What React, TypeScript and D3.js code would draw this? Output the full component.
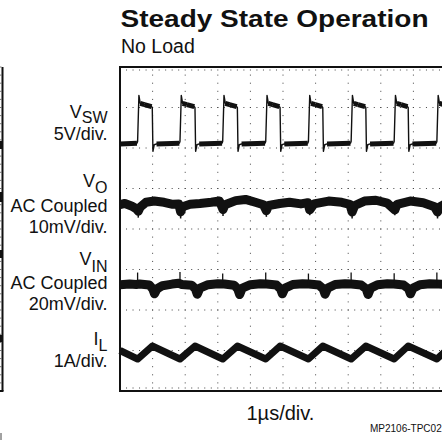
import React from "react";
import * as d3 from "d3";

// ---------- data ----------
const titleText = "Steady State Operation";
const subtitleText = "No Load";
const xAxisLabel = "1\u00b5s/div.";
const figureId = "MP2106-TPC02";

const timeDivisions = 10; // µs across screen
const verticalDivisions = 8;

// channel settings
const channelMain = ["V", "V", "V", "I"];
const channelSub = ["SW", "O", "IN", "L"];
const channelCoupling = ["", "AC Coupled", "AC Coupled", ""];
const channelScaleText = ["5V/div.", "10mV/div.", "20mV/div.", "1A/div."];
const channelPerDiv = [5, 10, 20, 1]; // V, mV, mV, A per division
const channelOffsetDiv = [2.1, 0.6, -1.4, -3.05]; // trace ground position (div from centre)

// V_SW  (t µs, volts)
const vswTrace: [number, number][] = [
  [0, 0.0], [0.52, 0.1],
  [0.54, 0.3], [0.58, 6.0], [0.62, 5.0], [0.75, 4.85], [0.97, 4.6], [0.99, 4.5], [1.01, -0.9], [1.05, -0.1], [1.12, 0], [1.82, 0.1],
  [1.84, 0.3], [1.88, 6.0], [1.92, 5.0], [2.05, 4.85], [2.28, 4.6], [2.3, 4.5], [2.32, -0.9], [2.36, -0.1], [2.43, 0], [3.13, 0.1],
  [3.15, 0.3], [3.19, 6.0], [3.23, 5.0], [3.36, 4.85], [3.58, 4.6], [3.6, 4.5], [3.62, -0.9], [3.66, -0.1], [3.73, 0], [4.45, 0.1],
  [4.47, 0.3], [4.51, 6.0], [4.55, 5.0], [4.68, 4.85], [4.89, 4.6], [4.91, 4.5], [4.93, -0.9], [4.97, -0.1], [5.04, 0], [5.76, 0.1],
  [5.78, 0.3], [5.82, 6.0], [5.86, 5.0], [5.99, 4.85], [6.2, 4.6], [6.22, 4.5], [6.24, -0.9], [6.28, -0.1], [6.35, 0], [7.07, 0.1],
  [7.09, 0.3], [7.13, 6.0], [7.17, 5.0], [7.3, 4.85], [7.52, 4.6], [7.54, 4.5], [7.56, -0.9], [7.6, -0.1], [7.67, 0], [8.39, 0.1],
  [8.41, 0.3], [8.45, 6.0], [8.49, 5.0], [8.62, 4.85], [8.82, 4.6], [8.84, 4.5], [8.86, -0.9], [8.9, -0.1], [8.97, 0], [9.7, 0.1],
  [9.72, 0.3], [9.76, 6.0], [9.8, 5.0], [9.93, 4.85], [10, 4.8],
];

// V_O ripple (t µs, mV)
const voTrace: [number, number][] = [
  [0, 0.0], [0.15, 0.3], [0.35, -0.3], [0.5, -1.0], [0.56, -1.6], [0.62, -0.6], [0.8, 0.6], [1.05, 0.9], [1.35, 0.6],
  [1.62, 0.1], [1.8, 0.2], [1.86, -1.8], [1.92, -0.5], [2.15, 0.1], [2.45, 0.3], [2.8, 0.6], [3.05, 0.9], [3.16, -1.2],
  [3.22, 0.0], [3.55, 1.0], [3.85, 1.3], [4.15, 0.6], [4.4, 0.0], [4.49, -1.5], [4.56, -0.2], [4.9, 0.3], [5.2, 0.6],
  [5.55, 0.2], [5.76, 0.5], [5.82, -1.3], [5.95, 0.2], [6.4, 0.9], [6.8, 0.6], [7.05, 0.1], [7.12, -1.8], [7.2, -0.2],
  [7.5, 0.9], [7.85, 1.1], [8.2, 0.4], [8.43, -1.3], [8.5, 0.1], [8.9, 0.9], [9.3, 0.5], [9.65, -0.5], [9.74, -1.8],
  [9.82, -0.5], [10, 0.3],
];
const voSpikes: [number, number, number][] = [
  [0.56, -1, -3.2], [1.86, -1, -3.4], [3.16, -1, -2.8], [4.49, -1, -3.0], [5.82, -1, -2.6], [7.12, -1, -3.4], [8.43, -1, -2.6], [9.74, -1, -3.4],
];

// V_IN ripple (t µs, mV)
const vinTrace: [number, number][] = [
  [0, 0.5], [0.3, 0.8], [0.5, 0.6], [0.6, 0.8], [0.9, 0.3], [1.0, -1.5], [1.06, -4.0], [1.14, -1.5], [1.3, 0.0],
  [1.6, 0.8], [1.8, 1.2], [1.9, 0.6], [2.2, 0.2], [2.31, -1.5], [2.37, -4.2], [2.45, -1.2], [2.7, 0.5], [3.0, 1.0],
  [3.2, 0.8], [3.5, 0.2], [3.61, -1.5], [3.67, -4.4], [3.75, -1.2], [4.0, 0.5], [4.3, 1.0], [4.5, 0.8], [4.8, 0.3],
  [4.92, -1.5], [4.98, -4.0], [5.06, -1.2], [5.3, 0.6], [5.6, 1.0], [5.8, 0.8], [6.1, 0.3], [6.23, -1.5], [6.29, -4.2],
  [6.37, -1.2], [6.6, 0.6], [6.9, 1.0], [7.1, 0.8], [7.4, 0.3], [7.55, -1.5], [7.61, -4.3], [7.69, -1.2], [7.9, 0.5],
  [8.2, 1.0], [8.4, 0.8], [8.7, 0.3], [8.85, -1.5], [8.91, -4.0], [8.99, -1.2], [9.2, 0.5], [9.5, 1.0], [9.7, 0.9], [10, 0.5],
];
const vinSpikes: [number, number, number][] = [
  [0.54, 0, 6.5], [1.84, 0, 6.8], [3.15, 0, 6.0], [4.47, 0, 6.5], [5.78, 0, 6.0], [7.09, 0, 6.5], [8.41, 0, 6.2], [9.72, 0, 6.5],
];

// I_L (t µs, A)
const ilTrace: [number, number][] = [
  [0, 0.05], [0.54, -0.16], [0.99, 0.16], [1.84, -0.16], [2.3, 0.16], [3.15, -0.16], [3.6, 0.16], [4.47, -0.16],
  [4.91, 0.16], [5.78, -0.16], [6.22, 0.16], [7.09, -0.16], [7.54, 0.16], [8.41, -0.16], [8.84, 0.16], [9.72, -0.16], [10, 0.05],
];

// ---------- layout ----------
const W = 442;
const H = 444;
const plot = { left: 120, right: 446, top: 67, bottom: 391 };
const FONT = "'Liberation Sans', Arial, Helvetica, sans-serif";
const INK = "#111";

export default function App() {
  const x = d3.scaleLinear().domain([0, timeDivisions]).range([plot.left, plot.right]);
  const yDiv = d3
    .scaleLinear()
    .domain([-verticalDivisions / 2, verticalDivisions / 2])
    .range([plot.bottom, plot.top]);
  const chY = (ch: number) => (v: number) => yDiv(channelOffsetDiv[ch] + v / channelPerDiv[ch]);

  const lineFor = (ch: number) =>
    d3
      .line<[number, number]>()
      .x((d) => x(d[0]))
      .y((d) => chY(ch)(d[1]));

  // grid dots
  const dots: { cx: number; cy: number }[] = [];
  const minorT = d3.range(0, timeDivisions * 5 + 1).map((i) => i / 5);
  const minorV = d3.range(0, verticalDivisions * 5 + 1).map((i) => -verticalDivisions / 2 + i / 5);
  for (let k = 1; k < timeDivisions; k++) {
    minorV.forEach((v) => dots.push({ cx: x(k), cy: yDiv(v) }));
  }
  for (let k = 1; k < verticalDivisions; k++) {
    const v = -verticalDivisions / 2 + k;
    minorT.forEach((t) => dots.push({ cx: x(t), cy: yDiv(v) }));
  }
  minorT.forEach((t) => {
    dots.push({ cx: x(t), cy: plot.top + 3 });
    dots.push({ cx: x(t), cy: plot.bottom - 3 });
  });

  // VSW flat (noisy) segments drawn thick
  const vswFlat: [number, number][][] = [];
  for (let i = 1; i < vswTrace.length; i++) {
    if (vswTrace[i][0] - vswTrace[i - 1][0] >= 0.1) vswFlat.push([vswTrace[i - 1], vswTrace[i]]);
  }

  const labelRight = 107.5;
  const labelY = [
    { main: 118.3, sub: 5, lines: [140] },
    { main: 187.3, sub: 6, lines: [211.7, 232.7] },
    { main: 265, sub: 6.5, lines: [289.3, 310] },
    { main: 345, sub: 5.5, lines: [366.7] },
  ];

  return (
    <svg
      width={W}
      height={H}
      viewBox={`0 0 ${W} ${H}`}
      style={{ position: "absolute", left: 0, top: 0, background: "#fff" }}
      fontFamily={FONT}
    >
      <rect x={0} y={0} width={W} height={H} fill="#fff" />

      {/* neighbouring figure fragment at left edge */}
      <line x1={2.5} x2={2.5} y1={plot.top} y2={plot.bottom} stroke={INK} strokeWidth={2} />
      {minorV.map((v, i) => (
        <line key={"nt" + i} x1={0} x2={1.5} y1={yDiv(v)} y2={yDiv(v)} stroke="#555" strokeWidth={0.8} />
      ))}
      <line x1={0} x2={3.5} y1={plot.bottom} y2={plot.bottom} stroke={INK} strokeWidth={2} />
      <rect x={0} y={141} width={2} height={8} fill={INK} />
      <rect x={0} y={192} width={2} height={10} fill={INK} />
      <rect x={0} y={250} width={2} height={8} fill={INK} />
      <rect x={0} y={335} width={2} height={7} fill={INK} />
      <line x1={1} x2={1} y1={433} y2={440} stroke="#444" strokeWidth={1} />

      {/* titles */}
      <text x={120.5} y={26.7} fontSize={23} fontWeight="bold" fill={INK} textLength={308} lengthAdjust="spacingAndGlyphs">
        {titleText}
      </text>
      <text x={121} y={53.3} fontSize={19.5} fill={INK}>
        {subtitleText}
      </text>

      {/* grid */}
      {dots.map((d, i) => (
        <rect key={"d" + i} x={d.cx - 0.5} y={d.cy - 0.5} width={1} height={1} fill="#444" />
      ))}

      {/* traces */}
      <g fill="none" stroke={INK} strokeLinejoin="round">
        <path d={lineFor(0)(vswTrace) ?? ""} strokeWidth={1.4} />
        {vswFlat.map((seg, i) => (
          <path key={"vf" + i} d={lineFor(0)(seg) ?? ""} strokeWidth={5} />
        ))}
        <path d={lineFor(1)(voTrace) ?? ""} strokeWidth={9} />
        {voSpikes.map((s, i) => (
          <line key={"vs" + i} x1={x(s[0])} x2={x(s[0])} y1={chY(1)(s[1])} y2={chY(1)(s[2])} strokeWidth={1.5} />
        ))}
        <path d={lineFor(2)(vinTrace) ?? ""} strokeWidth={9} />
        {vinSpikes.map((s, i) => (
          <line key={"is" + i} x1={x(s[0])} x2={x(s[0])} y1={chY(2)(s[1])} y2={chY(2)(s[2])} strokeWidth={1.3} />
        ))}
        <path d={lineFor(3)(ilTrace) ?? ""} strokeWidth={7} />
      </g>

      {/* frame */}
      <rect
        x={plot.left}
        y={plot.top}
        width={plot.right - plot.left}
        height={plot.bottom - plot.top}
        fill="none"
        stroke={INK}
        strokeWidth={2}
      />

      {/* channel labels */}
      {channelMain.map((m, i) => (
        <g key={"lab" + i} fill={INK} textAnchor="end">
          <text x={labelRight} y={labelY[i].main} fontSize={18}>
            {m}
            <tspan fontSize={16} dy={labelY[i].sub}>
              {channelSub[i]}
            </tspan>
          </text>
          {(channelCoupling[i] ? [channelCoupling[i], channelScaleText[i]] : [channelScaleText[i]]).map((t, j) => (
            <text key={j} x={labelRight} y={labelY[i].lines[j]} fontSize={18}>
              {t}
            </text>
          ))}
        </g>
      ))}

      {/* axis caption */}
      <text x={246.5} y={420} fontSize={20} fill={INK}>
        {xAxisLabel}
      </text>
      <text x={370} y={432} fontSize={10} fill={INK}>
        {figureId}
      </text>
    </svg>
  );
}
